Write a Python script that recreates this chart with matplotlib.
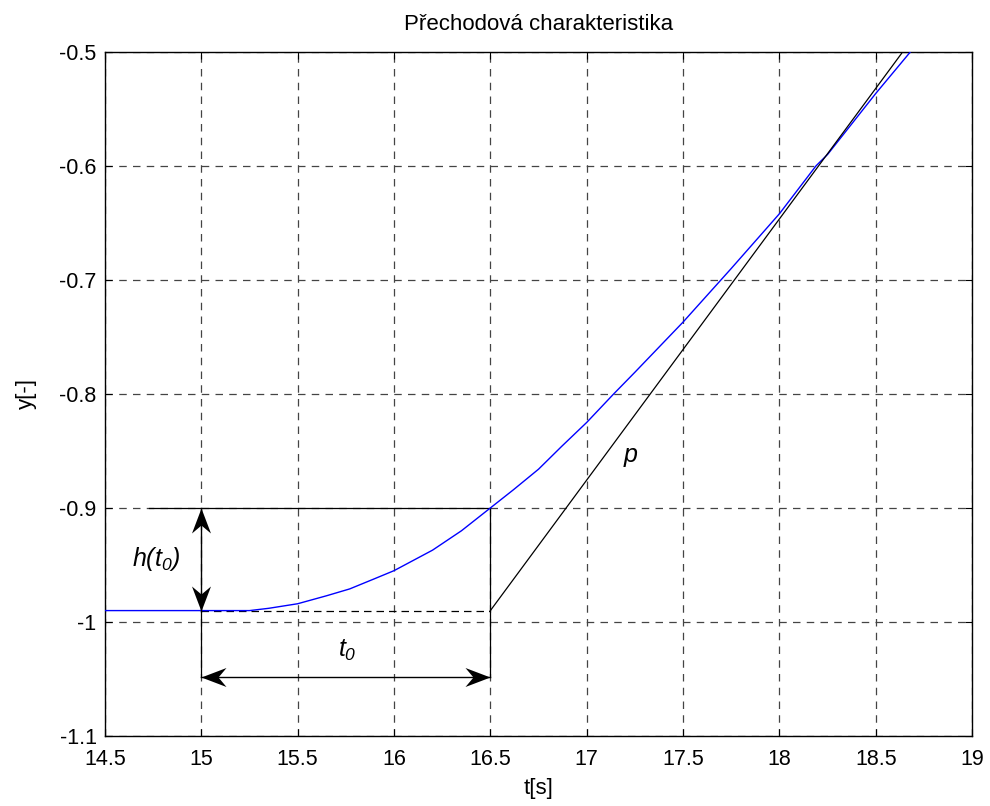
import matplotlib
matplotlib.use("Agg")
from matplotlib import pyplot as plt
from matplotlib.path import Path
import numpy as np

plt.rcParams['font.family'] = ['Liberation Sans', 'DejaVu Sans']
plt.rcParams['mathtext.fontset'] = 'custom'
plt.rcParams['mathtext.it'] = 'Liberation Sans:italic'
plt.rcParams['mathtext.rm'] = 'Liberation Sans:italic'

# step response
t = [14.5, 15.0, 15.25, 15.35, 15.5, 15.65, 15.77, 15.9, 16.0, 16.1, 16.2,
     16.35, 16.5, 16.62, 16.75, 16.87, 17.0, 17.14, 17.25, 17.5, 17.75, 18.0,
     18.19, 18.25, 18.5, 18.68]
y = [-0.990, -0.990, -0.990, -0.988, -0.984, -0.977, -0.971, -0.962, -0.955,
     -0.946, -0.937, -0.920, -0.900, -0.884, -0.866, -0.846, -0.825, -0.800,
     -0.781, -0.737, -0.690, -0.642, -0.600, -0.590, -0.5365, -0.500]

# tangent p
tang_t = [16.5, 18.64]
tang_y = [-0.99, -0.50]

t0_start = 15.0
t0_end = 16.5
y_flat = -0.99
y_h = -0.90
arrow_y = -1.048

xticks = [14.5, 15, 15.5, 16, 16.5, 17, 17.5, 18, 18.5, 19]
xtick_labels = ['14.5', '15', '15.5', '16', '16.5', '17', '17.5', '18', '18.5', '19']
yticks = [-1.1, -1.0, -0.9, -0.8, -0.7, -0.6, -0.5]
ytick_labels = ['-1.1', '-1', '-0.9', '-0.8', '-0.7', '-0.6', '-0.5']


def head(direction):
    # concave arrowhead, tip at the origin
    pts = np.array([[0, 0], [-25, 9.5], [-17, 0], [-25, -9.5], [0, 0]], float)
    rot = {'right': 0, 'up': 90, 'left': 180, 'down': 270}[direction]
    a = np.deg2rad(rot)
    r = np.array([[np.cos(a), -np.sin(a)], [np.sin(a), np.cos(a)]])
    return Path(pts @ r.T, closed=True)


fig = plt.figure(figsize=(9.9, 8.06), dpi=100)
ax = fig.add_axes([0.106, 0.0868, 0.876, 0.849])

ax.plot(t, y, color='#0000ff', linewidth=1.0, zorder=3)
ax.plot(tang_t, tang_y, color='black', linewidth=0.9, zorder=3)

# construction lines
ax.plot([t0_start, t0_end], [y_flat, y_flat], color='black', linewidth=0.9,
        linestyle=(0, (6, 4)), zorder=2)
ax.plot([14.73, t0_end], [y_h, y_h], color='black', linewidth=0.9, zorder=2)
ax.plot([t0_end, t0_end], [y_h, arrow_y], color='black', linewidth=0.9, zorder=2)
ax.plot([t0_start, t0_start], [y_flat, arrow_y], color='black', linewidth=0.9, zorder=2)

# double arrows
ax.plot([t0_start, t0_start], [y_flat, y_h], color='black', linewidth=1.0, zorder=4)
ax.plot([t0_start, t0_end], [arrow_y, arrow_y], color='black', linewidth=1.0, zorder=4)
for (px, py, d) in [(t0_start, y_h, 'up'), (t0_start, y_flat, 'down'),
                    (t0_start, arrow_y, 'left'), (t0_end, arrow_y, 'right')]:
    ax.plot([px], [py], marker=head(d), markersize=36, color='black',
            markeredgewidth=0, zorder=5)

ax.text(14.64, -0.945, r'$h(t_0)$', fontsize=18, va='center', ha='left')
ax.text(15.71, -1.025, r'$t_0$', fontsize=18, va='center', ha='left')
ax.text(17.19, -0.855, r'$p$', fontsize=18, va='center', ha='left')

ax.set_xlim(14.5, 19)
ax.set_ylim(-1.1, -0.5)
ax.set_xticks(xticks)
ax.set_xticklabels(xtick_labels)
ax.set_yticks(yticks)
ax.set_yticklabels(ytick_labels)
ax.tick_params(direction='in', top=True, right=True, labelsize=15.5, length=5,
               width=0.8)
ax.tick_params(axis='x', pad=9)
ax.tick_params(axis='y', pad=6)
ax.grid(True, color='#444444', linestyle=(0, (6, 5)), linewidth=0.9)
for s in ax.spines.values():
    s.set_linewidth(1.0)

ax.set_title('Přechodová charakteristika', fontsize=16, pad=16)
ax.set_xlabel('t[s]', fontsize=16, labelpad=6)
ax.set_ylabel('y[-]', fontsize=16, labelpad=16)

fig.savefig('out.png', dpi=100)
